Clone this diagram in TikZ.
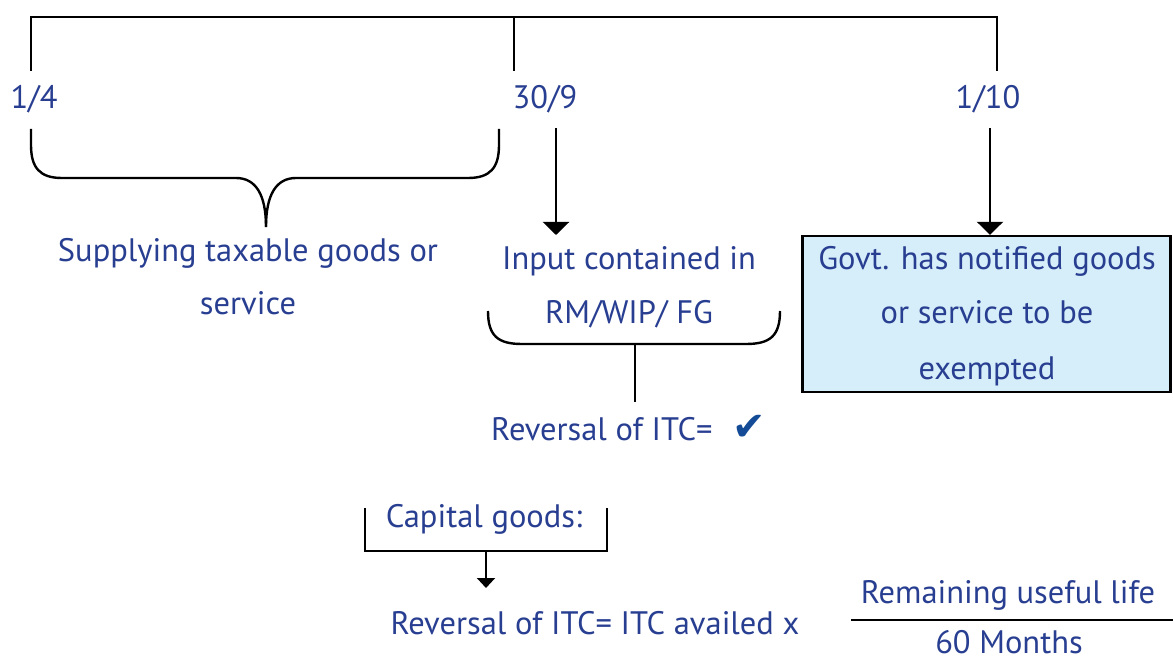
\documentclass[tikz,border=0pt]{standalone}
\usepackage{fontspec}
\setmainfont{PT Sans}
\newfontfamily\symfont{DejaVu Sans}
\usetikzlibrary{arrows.meta}
\definecolor{txtblue}{RGB}{40,62,145}
\definecolor{chkblue}{RGB}{20,75,150}
\definecolor{boxfill}{RGB}{214,238,250}
\begin{document}
\begin{tikzpicture}[x=1pt,y=-1pt,
  lbl/.style={anchor=base,inner sep=0pt,text=txtblue,font=\fontsize{32.5}{38}\selectfont},
  ln/.style={line width=2.4pt,black},
  arr/.style={line width=2.4pt,-{Triangle[width=26pt,length=13pt]}},
  arrs/.style={line width=2pt,-{Triangle[width=18pt,length=10pt]}}]
\useasboundingbox (0,0) rectangle (1173,660);
% top timeline
\coordinate (tl) at (31,17);
\coordinate (tm) at (514,17);
\coordinate (tr) at (997,17);
\coordinate (tlb) at (31,71);
\coordinate (tmb) at (514,71);
\coordinate (trb) at (997,71);
\draw[ln] (tlb) -- (tl) -- (tr) -- (trb);
\draw[ln] (tm) -- (tmb);
% date labels
\node[lbl] (d1) at (34,109) {1/4};
\node[lbl] (d2) at (545,109) {30/9};
\node[lbl] (d3) at (988,109) {1/10};
% left brace
\draw[ln] (31,129) -- (31,145) .. controls (31,168) and (40,178) .. (62,178)
  -- (236,178) .. controls (256,178) and (266,195) .. (266,227);
\draw[ln] (499,129) -- (499,145) .. controls (499,168) and (490,178) .. (468,178)
  -- (296,178) .. controls (276,178) and (266,195) .. (266,227);
\node[lbl] (s1) at (248,262) {Supplying taxable goods or};
\node[lbl] (s2) at (248,315) {service};
% middle
\coordinate (a2s) at (556,128);
\coordinate (a2e) at (556,235);
\draw[arr] (a2s) -- (a2e);
\node[lbl] (i1) at (629,270) {Input contained in};
\node[lbl] (i2) at (629,324) {RM/WIP/ FG};
\draw[ln] (488,311) .. controls (488,336) and (498,344) .. (522,344)
  -- (746,344) .. controls (770,344) and (780,336) .. (780,311);
\coordinate (st1) at (635,344);
\coordinate (st2) at (635,402);
\draw[ln] (st1) -- (st2);
\node[lbl,anchor=base west] (r1) at (491,440) {Reversal of ITC=\hspace{0.6em}{\color{chkblue}\symfont\fontsize{40}{44}\selectfont ✔}};
% right box
\node[draw=black,line width=2.4pt,fill=boxfill,minimum width=368pt,minimum height=156pt,inner sep=0pt] (box) at (986.5,314) {};
\coordinate (a3s) at (990,128);
\draw[arr] (a3s) -- (box.north -| a3s);
\node[lbl] (g1) at (987,270) {Govt. has notified goods};
\node[lbl] (g2) at (987,324) {or service to be};
\node[lbl] (g3) at (987,379) {exempted};
% capital goods
\draw[line width=2pt] (365,508) -- (365,551) -- (607,551) -- (607,508);
\node[lbl] (c1) at (484,527) {Capital goods:};
\coordinate (a4s) at (486,551);
\coordinate (a4e) at (486,588);
\draw[arrs] (a4s) -- (a4e);
\node[lbl] (f1) at (595,634) {Reversal of ITC= ITC availed x};
\node[lbl] (f2) at (1008,603) {Remaining useful life};
\node[lbl] (f3) at (1009,653) {60 Months};
\coordinate (fl1) at (851,620);
\coordinate (fl2) at (1173,620);
\draw[line width=2pt] (fl1) -- (fl2);
\end{tikzpicture}
\end{document}
